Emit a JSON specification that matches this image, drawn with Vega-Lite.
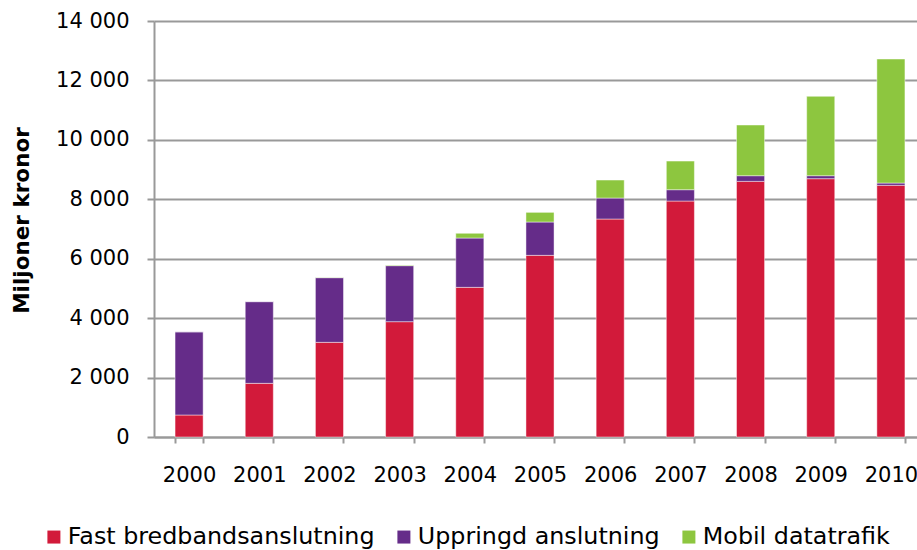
{
  "$schema": "https://vega.github.io/schema/vega-lite/v6.json",
  "width": 763,
  "height": 416,
  "autosize": {"type": "none"},
  "padding": {"left": 154, "top": 21, "right": 0, "bottom": 113},
  "background": "white",
  "data": {
    "values": [
      {"year": "2000", "typ": "Fast bredbandsanslutning", "rank": 1, "value": 740},
      {"year": "2000", "typ": "Uppringd anslutning", "rank": 2, "value": 2800},
      {"year": "2000", "typ": "Mobil datatrafik", "rank": 3, "value": 0},
      {"year": "2001", "typ": "Fast bredbandsanslutning", "rank": 1, "value": 1806},
      {"year": "2001", "typ": "Uppringd anslutning", "rank": 2, "value": 2750},
      {"year": "2001", "typ": "Mobil datatrafik", "rank": 3, "value": 0},
      {"year": "2002", "typ": "Fast bredbandsanslutning", "rank": 1, "value": 3186},
      {"year": "2002", "typ": "Uppringd anslutning", "rank": 2, "value": 2176},
      {"year": "2002", "typ": "Mobil datatrafik", "rank": 3, "value": 10},
      {"year": "2003", "typ": "Fast bredbandsanslutning", "rank": 1, "value": 3881},
      {"year": "2003", "typ": "Uppringd anslutning", "rank": 2, "value": 1885},
      {"year": "2003", "typ": "Mobil datatrafik", "rank": 3, "value": 20},
      {"year": "2004", "typ": "Fast bredbandsanslutning", "rank": 1, "value": 5036},
      {"year": "2004", "typ": "Uppringd anslutning", "rank": 2, "value": 1660},
      {"year": "2004", "typ": "Mobil datatrafik", "rank": 3, "value": 160},
      {"year": "2005", "typ": "Fast bredbandsanslutning", "rank": 1, "value": 6113},
      {"year": "2005", "typ": "Uppringd anslutning", "rank": 2, "value": 1122},
      {"year": "2005", "typ": "Mobil datatrafik", "rank": 3, "value": 325},
      {"year": "2006", "typ": "Fast bredbandsanslutning", "rank": 1, "value": 7336},
      {"year": "2006", "typ": "Uppringd anslutning", "rank": 2, "value": 706},
      {"year": "2006", "typ": "Mobil datatrafik", "rank": 3, "value": 606},
      {"year": "2007", "typ": "Fast bredbandsanslutning", "rank": 1, "value": 7941},
      {"year": "2007", "typ": "Uppringd anslutning", "rank": 2, "value": 381},
      {"year": "2007", "typ": "Mobil datatrafik", "rank": 3, "value": 965},
      {"year": "2008", "typ": "Fast bredbandsanslutning", "rank": 1, "value": 8603},
      {"year": "2008", "typ": "Uppringd anslutning", "rank": 2, "value": 191},
      {"year": "2008", "typ": "Mobil datatrafik", "rank": 3, "value": 1705},
      {"year": "2009", "typ": "Fast bredbandsanslutning", "rank": 1, "value": 8693},
      {"year": "2009", "typ": "Uppringd anslutning", "rank": 2, "value": 101},
      {"year": "2009", "typ": "Mobil datatrafik", "rank": 3, "value": 2670},
      {"year": "2010", "typ": "Fast bredbandsanslutning", "rank": 1, "value": 8469},
      {"year": "2010", "typ": "Uppringd anslutning", "rank": 2, "value": 78},
      {"year": "2010", "typ": "Mobil datatrafik", "rank": 3, "value": 4173}
    ]
  },
  "mark": {"type": "bar", "stroke": "white", "strokeOpacity": 0.45, "strokeWidth": 1},
  "encoding": {
    "x": {
      "field": "year",
      "type": "ordinal",
      "scale": {"range": [0, 772], "paddingInner": 0.6, "paddingOuter": 0.3},
      "axis": {
        "title": null,
        "labelAngle": 0,
        "tickBand": "extent",
        "tickSize": 6,
        "tickColor": "#999999",
        "tickWidth": 2,
        "domainColor": "#999999",
        "domainWidth": 2,
        "labelFont": "DejaVu Sans",
        "labelFontSize": 21,
        "labelColor": "black",
        "labelPadding": 21,
        "grid": false
      }
    },
    "y": {
      "field": "value",
      "type": "quantitative",
      "stack": "zero",
      "scale": {"domain": [0, 14000], "nice": false},
      "axis": {
        "title": "Miljoner kronor",
        "values": [0, 2000, 4000, 6000, 8000, 10000, 12000, 14000],
        "labelExpr": "replace(format(datum.value, ','), ',', ' ')",
        "grid": true,
        "gridColor": "#999999",
        "gridWidth": 2,
        "domainColor": "#999999",
        "domainWidth": 2,
        "tickColor": "#999999",
        "tickWidth": 2,
        "tickSize": 7,
        "labelPadding": 18,
        "labelFont": "DejaVu Sans",
        "labelFontSize": 21,
        "labelColor": "black",
        "titleFont": "DejaVu Sans",
        "titleFontSize": 21.5,
        "titleFontWeight": "bold",
        "titleColor": "black",
        "titleAngle": -90,
        "titleX": -126,
        "titleY": 199,
        "titleAlign": "center",
        "titleBaseline": "alphabetic"
      }
    },
    "color": {
      "field": "typ",
      "type": "nominal",
      "scale": {
        "domain": ["Fast bredbandsanslutning", "Uppringd anslutning", "Mobil datatrafik"],
        "range": ["#D21A3A", "#652C89", "#8DC63F"]
      },
      "legend": {
        "title": null,
        "orient": "none",
        "direction": "horizontal",
        "legendX": -112,
        "legendY": 504,
        "symbolType": "square",
        "symbolSize": 169,
        "symbolStrokeWidth": 0,
        "labelFont": "DejaVu Sans",
        "labelFontSize": 23.8,
        "labelColor": "black",
        "labelLimit": 400,
        "labelOffset": 2,
        "columnPadding": 17
      }
    },
    "order": {"field": "rank", "type": "quantitative", "sort": "ascending"}
  },
  "config": {"view": {"stroke": null}}
}
